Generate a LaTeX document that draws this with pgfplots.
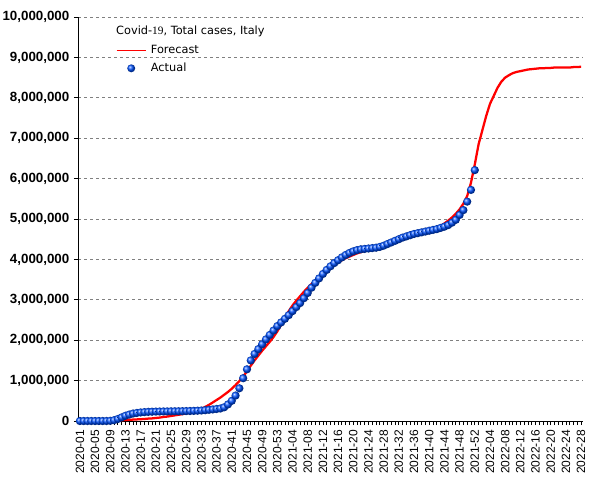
\documentclass[border=0pt]{standalone}
\usepackage{pgfplots}
\pgfplotsset{compat=1.18}
\usepackage{pgfplotstable}
\usepackage{fontspec}
\setmainfont{DejaVu Sans}
\newfontfamily\libsans{Liberation Sans}
\newfontfamily\libserif{Liberation Serif}
\definecolor{ballblue}{RGB}{0,80,255}

\pgfplotstableread{
x y
0 0
1 0
2 0
3 0
4 0
5 0
6 0
7 0
8 5000
9 20000
10 50000
11 90000
12 130000
13 160000
14 185000
15 200000
16 212000
17 220000
18 226000
19 230000
20 233000
21 235000
22 237000
23 238000
24 240000
25 241000
26 242000
27 244000
28 246000
29 248000
30 251000
31 255000
32 260000
33 268000
34 277000
35 287000
36 298000
37 310000
38 340000
39 410000
40 500000
41 630000
42 810000
43 1060000
44 1280000
45 1500000
46 1660000
47 1780000
48 1900000
49 2020000
50 2130000
51 2240000
52 2350000
53 2440000
54 2530000
55 2620000
56 2720000
57 2820000
58 2920000
59 3040000
60 3170000
61 3300000
62 3420000
63 3530000
64 3640000
65 3740000
66 3830000
67 3910000
68 3980000
69 4050000
70 4110000
71 4160000
72 4200000
73 4230000
74 4250000
75 4260000
76 4270000
77 4280000
78 4290000
79 4310000
80 4340000
81 4380000
82 4420000
83 4460000
84 4500000
85 4540000
86 4570000
87 4600000
88 4630000
89 4650000
90 4670000
91 4690000
92 4710000
93 4730000
94 4750000
95 4780000
96 4810000
97 4850000
98 4910000
99 4980000
100 5100000
101 5220000
102 5430000
103 5720000
104 6210000
}\actualtable

\pgfplotstableread{
x y
0 0
1 0
2 0
3 0
4 0
5 0
6 0
7 0
8 5000
9 10000
10 15000
11 20000
12 25000
13 30000
14 35000
15 40000
16 45000
17 50000
18 60000
19 65000
20 75000
21 85000
22 100000
23 110000
24 125000
25 140000
26 155000
27 170000
28 190000
29 210000
30 230000
31 260000
32 300000
33 350000
34 400000
35 460000
36 520000
37 580000
38 650000
39 720000
40 800000
41 890000
42 990000
43 1100000
44 1230000
45 1370000
46 1500000
47 1620000
48 1740000
49 1850000
50 1960000
51 2080000
52 2220000
53 2380000
54 2550000
55 2720000
56 2860000
57 2980000
58 3090000
59 3200000
60 3300000
61 3390000
62 3470000
63 3560000
64 3660000
65 3740000
66 3810000
67 3870000
68 3930000
69 3980000
70 4030000
71 4070000
72 4110000
73 4150000
74 4180000
75 4210000
76 4240000
77 4270000
78 4300000
79 4330000
80 4360000
81 4390000
82 4420000
83 4450000
84 4480000
85 4510000
86 4540000
87 4570000
88 4600000
89 4620000
90 4650000
91 4680000
92 4710000
93 4740000
94 4780000
95 4830000
96 4890000
97 4960000
98 5040000
99 5130000
100 5240000
101 5380000
102 5570000
103 5900000
104 6350000
105 6850000
106 7200000
107 7550000
108 7850000
109 8050000
110 8250000
111 8400000
112 8500000
113 8560000
114 8610000
115 8640000
116 8660000
117 8680000
118 8700000
119 8710000
120 8720000
121 8730000
122 8730000
123 8740000
124 8740000
125 8750000
126 8750000
127 8750000
128 8750000
129 8750000
130 8760000
131 8760000
132 8770000
}\forecasttable

\begin{document}
\begin{tikzpicture}
\useasboundingbox (-58.5pt,-44.25pt) rectangle (395.25pt,315.75pt);
\begin{axis}[
  at={(0pt,0pt)}, anchor=south west,
  scale only axis, width=378.75pt, height=303pt,
  xmin=-0.5, xmax=132.5, ymin=0, ymax=10000000,
  axis x line*=bottom, axis y line*=left,
  axis line style={-, black, line width=0.75pt},
  xtick={0,4,...,132},
  xticklabels={2020-01,2020-05,2020-09,2020-13,2020-17,2020-21,2020-25,2020-29,2020-33,2020-37,2020-41,2020-45,2020-49,2020-53,2021-04,2021-08,2021-12,2021-16,2021-20,2021-24,2021-28,2021-32,2021-36,2021-40,2021-44,2021-48,2021-52,2022-04,2022-08,2022-12,2022-16,2022-20,2022-24,2022-28},
  minor x tick num=3,
  ytick={0,1000000,2000000,3000000,4000000,5000000,6000000,7000000,8000000,9000000,10000000},
  scaled y ticks=false,
  tick align=outside,
  major tick length=3pt, minor tick length=3pt,
  tick style={black, line width=0.6pt},
  ymajorgrids,
  major grid style={gray, dash pattern=on 2.25pt off 2.25pt, line width=0.6pt},
  /pgf/number format/assume math mode=true,
  yticklabel style={font=\libsans\bfseries\fontsize{10}{12}\selectfont,
    /pgf/number format/fixed, /pgf/number format/precision=0,
    /pgf/number format/1000 sep={,}},
  xticklabel style={font=\libsans\fontsize{9}{11}\selectfont, rotate=90, anchor=east},
  legend cell align=left,
  reverse legend,
  legend style={at={(0.0752,0.9405)}, anchor=north west, draw=none, fill=none,
    inner sep=0pt, row sep=0pt, column sep=0pt,
    font=\fontsize{8.5}{10}\selectfont,
    nodes={inner ysep=2pt, inner xsep=3.5pt, text height=7pt, text depth=2.5pt}},
]
\addplot[only marks, mark=ball, mark size=3.1pt, draw=none,
  mark options={ball color=ballblue, draw=none},
  legend image code/.code={\path[draw=none] (0pt,0pt) -- (21.75pt,0pt);
    \path[draw=none, only marks, mark=ball, mark size=3pt, mark options={ball color=ballblue, draw=none}] plot coordinates {(10.875pt,0pt)};}]
  table[x=x,y=y] {\actualtable};
\addlegendentry{Actual}
\addplot[red, line width=1.7pt, no marks,
  legend image code/.code={\draw[red, line width=0.75pt] (0pt,0pt) -- (21.75pt,0pt);}]
  table[x=x,y=y] {\forecasttable};
\addlegendentry{Forecast}
\node[anchor=west, inner sep=0pt, font=\fontsize{8.5}{10}\selectfont]
  at (rel axis cs:0.0752,0.9653) {Covid-{\libserif 19}, Total cases, Italy};
\end{axis}
\end{tikzpicture}
\end{document}
